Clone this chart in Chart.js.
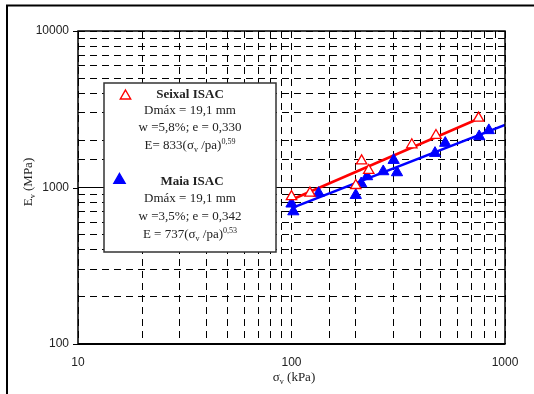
<!DOCTYPE html>
<html>
<head>
<meta charset="utf-8">
<script src="https://cdn.jsdelivr.net/npm/chart.js@4.4.0/dist/chart.umd.min.js"></script>
<style>
    html, body { margin: 0; padding: 0; background: #fff; }
    #wrap { position: relative; width: 534px; height: 394px; }
</style>
</head>
<body>
<div id="wrap"><canvas id="evChart"></canvas></div>
<script>
// Seixal ISAC - open red triangles
const seixalStress  = [100, 122, 200, 213, 230, 366, 475, 752];
const seixalModulus = [875, 920, 1030, 1480, 1285, 1875, 2150, 2775];

// Maia ISAC - filled blue triangles
const maiaStress  = [100, 102, 134, 200, 212, 226, 269, 301, 312, 470, 525, 757, 840];
const maiaModulus = [787, 702, 920, 893, 1060, 1176, 1266, 1495, 1247, 1658, 1922, 2120, 2317];

// Fitted lines, end points
const seixalFitStress  = [100, 760];
const seixalFitModulus = [835, 2770];
const maiaFitStress  = [100, 1000];
const maiaFitModulus = [738, 2510];

// Axis labels
const xTickLabels = [10, 100, 1000];
const yTickLabels = [100, 1000, 10000];

// Legend box text
const seixalName = 'Seixal ISAC';
const seixalLines = ['Dmáx = 19,1 mm', 'w =5,8%; e = 0,330'];
const seixalFormula = [{ t: 'E= 833(σ' }, { t: 'v', sub: true }, { t: ' /pa)' }, { t: '0,59', sup: true }];
const maiaName = 'Maia ISAC';
const maiaLines = ['Dmáx = 19,1 mm', 'w =3,5%; e = 0,342'];
const maiaFormula = [{ t: 'E = 737(σ' }, { t: 'v', sub: true }, { t: ' /pa)' }, { t: '0,53', sup: true }];

const SERIF = '"Liberation Serif", "Times New Roman", serif';
const SANS = '"Liberation Sans", Arial, sans-serif';

function toPoints(xs, ys) {
    return xs.map((x, i) => ({ x: x, y: ys[i] }));
}

// Draw a line of text with sub/superscript parts, centred on cx
function drawRich(ctx, parts, cx, cy, size, bold) {
    const weight = bold ? 'bold ' : '';
    let total = 0;
    parts.forEach(p => {
        const s = (p.sub || p.sup) ? size * 0.62 : size;
        p.font = weight + s + 'px ' + SERIF;
        ctx.font = p.font;
        p.w = ctx.measureText(p.t).width;
        total += p.w;
    });
    let x = cx - total / 2;
    ctx.textAlign = 'left';
    ctx.textBaseline = 'alphabetic';
    parts.forEach(p => {
        ctx.font = p.font;
        let dy = 0;
        if (p.sub) dy = size * 0.22;
        if (p.sup) dy = -size * 0.38;
        ctx.fillText(p.t, x, cy + dy);
        x += p.w;
    });
}

function drawTriangle(ctx, x, y, r, fill, stroke) {
    ctx.beginPath();
    ctx.moveTo(x, y - r);
    ctx.lineTo(x + r * 0.866, y + r * 0.5);
    ctx.lineTo(x - r * 0.866, y + r * 0.5);
    ctx.closePath();
    if (fill) { ctx.fillStyle = fill; ctx.fill(); }
    if (stroke) { ctx.strokeStyle = stroke; ctx.lineWidth = 1.4; ctx.stroke(); }
}

// Frame, axis titles and the legend box
const decorPlugin = {
    id: 'decor',
    afterDraw(chart) {
        const ctx = chart.ctx;
        const a = chart.chartArea;
        ctx.save();

        // outer frame (only top and left visible)
        ctx.strokeStyle = '#000';
        ctx.lineWidth = 2;
        ctx.beginPath();
        ctx.moveTo(7, 394);
        ctx.lineTo(7, 5.5);
        ctx.lineTo(534, 5.5);
        ctx.stroke();

        // plot frame
        ctx.lineWidth = 1.5;
        ctx.strokeRect(a.left, a.top, a.right - a.left, a.bottom - a.top);
        ctx.lineWidth = 2;
        ctx.beginPath();
        ctx.moveTo(a.left, a.bottom);
        ctx.lineTo(a.right, a.bottom);
        ctx.stroke();

        // short outer ticks at major y values
        const ys = chart.scales.y;
        ctx.lineWidth = 1;
        yTickLabels.forEach(v => {
            const py = Math.round(ys.getPixelForValue(v)) + 0.5;
            ctx.beginPath();
            ctx.moveTo(a.left - 5, py);
            ctx.lineTo(a.left, py);
            ctx.stroke();
        });

        // axis titles
        ctx.fillStyle = '#222';
        drawRich(ctx, [{ t: 'σ' }, { t: 'v', sub: true }, { t: ' (kPa)' }], 294, 381, 13);
        ctx.save();
        ctx.translate(32, 182);
        ctx.rotate(-Math.PI / 2);
        drawRich(ctx, [{ t: 'E' }, { t: 'v', sub: true }, { t: ' (MPa)' }], 0, 0, 13);
        ctx.restore();

        // legend box
        const bx = 104, by = 83, bw = 172, bh = 169;
        ctx.fillStyle = '#fff';
        ctx.fillRect(bx, by, bw, bh);
        ctx.strokeStyle = '#333';
        ctx.lineWidth = 1.5;
        ctx.strokeRect(bx, by, bw, bh);

        drawTriangle(ctx, 125.5, 96, 6, '#fff', '#ff0000');
        drawTriangle(ctx, 119.5, 180, 6.5, '#0000ff', '#0000ff');

        ctx.fillStyle = '#222';
        const cx = 190;
        drawRich(ctx, [{ t: seixalName }], cx, 98, 13, true);
        drawRich(ctx, [{ t: seixalLines[0] }], cx, 114, 13);
        drawRich(ctx, [{ t: seixalLines[1] }], cx, 131, 13);
        drawRich(ctx, seixalFormula, cx, 149, 13);

        drawRich(ctx, [{ t: maiaName }], cx + 2, 185, 13, true);
        drawRich(ctx, [{ t: maiaLines[0] }], cx, 202, 13);
        drawRich(ctx, [{ t: maiaLines[1] }], cx, 220, 13);
        drawRich(ctx, maiaFormula, cx, 238, 13);

        ctx.restore();
    }
};

const gridDash = ctx => (ctx.tick && ctx.tick.value === 1000 && ctx.scale.axis === 'y') ? [] : [7, 5];

const ctx = document.getElementById('evChart');
new Chart(ctx, {
    type: 'scatter',
    data: {
        datasets: [
            {
                label: 'Seixal ISAC',
                data: toPoints(seixalStress, seixalModulus),
                pointStyle: 'triangle',
                pointRadius: 6,
                pointBorderWidth: 1.3,
                pointBorderColor: '#ff0000',
                pointBackgroundColor: '#ffffff',
                order: 0
            },
            {
                label: 'Maia ISAC',
                data: toPoints(maiaStress, maiaModulus),
                pointStyle: 'triangle',
                pointRadius: 6.5,
                pointBorderWidth: 1,
                pointBorderColor: '#0000ff',
                pointBackgroundColor: '#0000ff',
                order: 0
            },
            {
                label: 'Seixal fit',
                data: toPoints(seixalFitStress, seixalFitModulus),
                showLine: true,
                borderColor: '#ff0000',
                borderWidth: 2.5,
                pointRadius: 0,
                order: 1
            },
            {
                label: 'Maia fit',
                data: toPoints(maiaFitStress, maiaFitModulus),
                showLine: true,
                borderColor: '#0000ff',
                borderWidth: 2.5,
                pointRadius: 0,
                order: 1
            }
        ]
    },
    options: {
        responsive: true,
        maintainAspectRatio: false,
        animation: false,
        layout: { padding: { top: 31, right: 29, left: 0, bottom: 0 } },
        plugins: {
            legend: { display: false },
            tooltip: { enabled: false }
        },
        scales: {
            x: {
                type: 'logarithmic',
                min: 10,
                max: 1000,
                afterFit: scale => { scale.height = 50; },
                grid: { color: '#000', lineWidth: 1, drawTicks: false },
                border: { display: false, dash: gridDash },
                ticks: {
                    autoSkip: false,
                    maxRotation: 0,
                    padding: 11,
                    color: '#222',
                    font: { family: SANS, size: 12 },
                    callback: v => xTickLabels.includes(v) ? String(v) : ''
                }
            },
            y: {
                type: 'logarithmic',
                min: 100,
                max: 10000,
                afterFit: scale => { scale.width = 78; },
                grid: { color: '#000', lineWidth: 1, drawTicks: false },
                border: { display: false, dash: gridDash },
                ticks: {
                    autoSkip: false,
                    padding: 9,
                    color: '#222',
                    font: { family: SANS, size: 12 },
                    callback: v => yTickLabels.includes(v) ? String(v) : ''
                }
            }
        }
    },
    plugins: [decorPlugin]
});
</script>
</body>
</html>
